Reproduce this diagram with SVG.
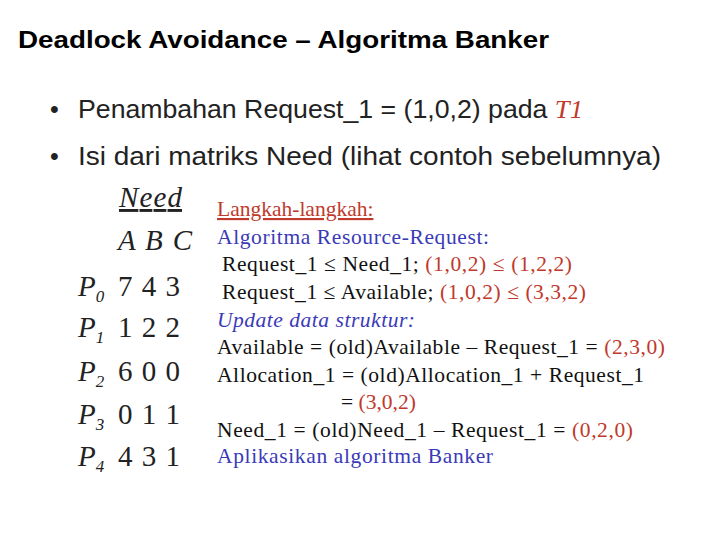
<svg xmlns="http://www.w3.org/2000/svg" width="720" height="540" viewBox="0 0 720 540">
<style>
.t{font-family:"Liberation Sans",Arial,sans-serif;font-weight:bold;font-size:24px;fill:#000}
.b{font-family:"Liberation Sans",Arial,sans-serif;font-size:25px;fill:#222}
.s{font-family:"Liberation Serif","Times New Roman",serif;font-size:29px;fill:#222}
.r{font-family:"Liberation Serif","Times New Roman",serif;font-size:21.5px;fill:#111}
.red{fill:#c0392b}
.blue{fill:#3a3ab8}
</style>
<rect width="720" height="540" fill="#fff"/>
<text class="t" x="18" y="48" textLength="531" lengthAdjust="spacingAndGlyphs">Deadlock Avoidance – Algoritma Banker</text>
<g id="bullets">
<text class="b" x="50" y="118">•</text>
<text class="b" x="78" y="118" textLength="505" lengthAdjust="spacingAndGlyphs">Penambahan Request_1 = (1,0,2) pada <tspan class="red" font-style="italic" font-family="Liberation Serif">T1</tspan></text>
<text class="b" x="50" y="165">•</text>
<text class="b" x="78" y="165" textLength="583" lengthAdjust="spacingAndGlyphs">Isi dari matriks Need (lihat contoh sebelumnya)</text>
</g>
<g id="table">
<text class="s" x="119" y="207" font-style="italic" text-decoration="underline" textLength="63">Need</text>
<text class="s" x="118" y="250" font-style="italic" textLength="74">A B C</text>
<text class="s" x="78" y="296" font-style="italic">P<tspan font-size="17" dy="6">0</tspan></text><text class="s" x="118" y="296" textLength="62">7 4 3</text>
<text class="s" x="78" y="337" font-style="italic">P<tspan font-size="17" dy="6">1</tspan></text><text class="s" x="118" y="337" textLength="62">1 2 2</text>
<text class="s" x="78" y="381" font-style="italic">P<tspan font-size="17" dy="6">2</tspan></text><text class="s" x="118" y="381" textLength="62">6 0 0</text>
<text class="s" x="78" y="424" font-style="italic">P<tspan font-size="17" dy="6">3</tspan></text><text class="s" x="118" y="424" textLength="62">0 1 1</text>
<text class="s" x="78" y="466" font-style="italic">P<tspan font-size="17" dy="6">4</tspan></text><text class="s" x="118" y="466" textLength="62">4 3 1</text>
</g>
<g id="steps">
<text class="r red" x="217" y="216" text-decoration="underline">Langkah-langkah:</text>
<text class="r blue" x="217" y="244" textLength="272">Algoritma Resource-Request:</text>
<text class="r" x="222" y="271" textLength="350">Request_1 ≤ Need_1; <tspan class="red">(1,0,2) ≤ (1,2,2)</tspan></text>
<text class="r" x="222" y="299" textLength="364">Request_1 ≤ Available; <tspan class="red">(1,0,2) ≤ (3,3,2)</tspan></text>
<text class="r blue" x="217" y="327" font-style="italic" textLength="198">Update data struktur:</text>
<text class="r" x="217" y="354" textLength="448">Available = (old)Available – Request_1 = <tspan class="red">(2,3,0)</tspan></text>
<text class="r" x="217" y="382" textLength="427">Allocation_1 = (old)Allocation_1 + Request_1</text>
<text class="r" x="341" y="409">= <tspan class="red">(3,0,2)</tspan></text>
<text class="r" x="217" y="437" textLength="416">Need_1 = (old)Need_1 – Request_1 = <tspan class="red">(0,2,0)</tspan></text>
<text class="r blue" x="217" y="463" textLength="276">Aplikasikan algoritma Banker</text>
</g>
</svg>
